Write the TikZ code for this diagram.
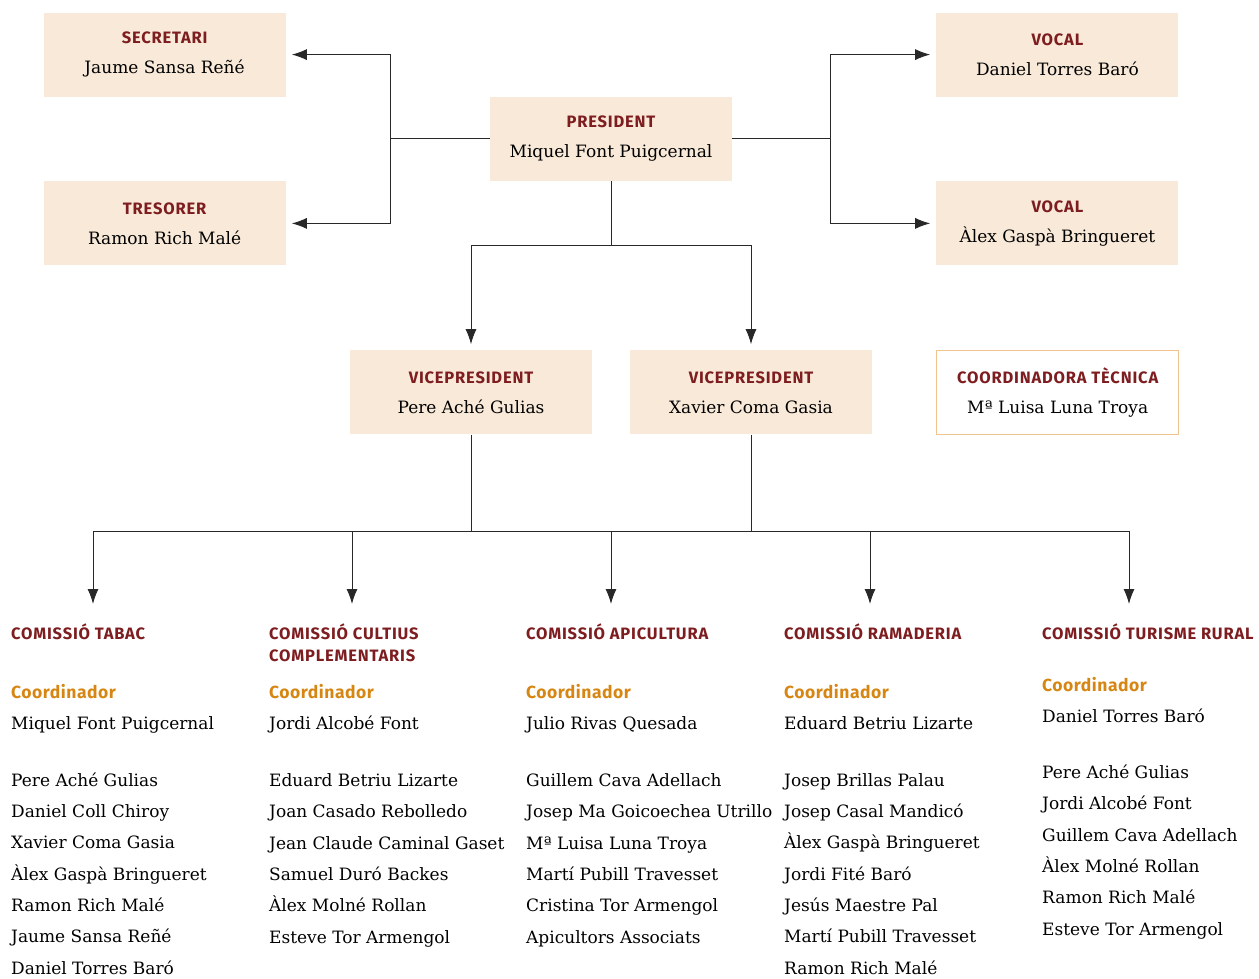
\documentclass[tikz,border=0pt]{standalone}
\usepackage{fontspec}
\setmainfont{DejaVu Serif}
\newfontfamily\headfont{Fira Sans}[LetterSpace=5]
\newfontfamily\rolefont{Fira Sans}[LetterSpace=3]
\usetikzlibrary{arrows.meta,positioning,calc}

\definecolor{boxfill}{RGB}{248,233,216}
\definecolor{headred}{RGB}{125,29,32}
\definecolor{coordorange}{RGB}{214,134,18}
\definecolor{techline}{RGB}{240,196,140}
\definecolor{linegray}{RGB}{40,40,40}

\newcommand{\posthead}[1]{{\headfont\bfseries\fontsize{16.5}{18}\selectfont\color{headred}#1}}

\begin{document}
\begin{tikzpicture}[x=1pt, y=-1pt,
    node distance=204pt,
    post/.style={rectangle, fill=boxfill, minimum width=242pt, minimum height=84pt, align=center, inner sep=0pt, font=\fontsize{17}{30}\selectfont},
    tech/.style={post, fill=white, draw=techline, line width=1pt},
    link/.style={draw=linegray, line width=1pt},
    drop/.style={link, -{Latex[length=15pt,width=11pt]}},
    arrowlink/.style={drop, shorten >=6pt},
    comtitle/.style={anchor=base west, inner sep=0pt, align=left, text=headred, font=\headfont\bfseries\fontsize{16.5}{22}\selectfont},
    rolelabel/.style={anchor=base west, inner sep=0pt, text=coordorange, font=\rolefont\bfseries\fontsize{17.5}{20}\selectfont},
    person/.style={anchor=base west, inner sep=0pt, align=left, font=\fontsize{17}{31.3}\selectfont}]

    \useasboundingbox (0,0) rectangle (1259,979);

    % Board
    \node [post] (president) at (611,139) {\posthead{PRESIDENT}\\Miquel Font Puigcernal};
    \node [post, above left=0pt and 204pt of president] (secretari) {\posthead{SECRETARI}\\Jaume Sansa Reñé};
    \node [post, below left=0pt and 204pt of president] (tresorer) {\posthead{TRESORER}\\Ramon Rich Malé};
    \node [post, above right=0pt and 204pt of president] (vocal_one) {\posthead{VOCAL}\\Daniel Torres Baró};
    \node [post, below right=0pt and 204pt of president] (vocal_two) {\posthead{VOCAL}\\Àlex Gaspà Bringueret};

    % Vice presidents
    \node [post, below=169pt of president, xshift=-140pt] (vice_one) {\posthead{VICEPRESIDENT}\\Pere Aché Gulias};
    \node [post, below=169pt of president, xshift=140pt] (vice_two) {\posthead{VICEPRESIDENT}\\Xavier Coma Gasia};
    \node [tech, right=64pt of vice_two] (coordinadora) {\posthead{COORDINADORA TÈCNICA}\\Mª Luisa Luna Troya};

    % Commissions (multi-line nodes sit on their last baseline)
    \node [comtitle] (tabac) at (11,639) {COMISSIÓ TABAC};
    \node [rolelabel] (tabac_role) at (11,698) {Coordinador};
    \node [person] (tabac_coord) at (11,729) {Miquel Font Puigcernal};
    \node [person] (tabac_members) at (11,974) {Pere Aché Gulias\\Daniel Coll Chiroy\\Xavier Coma Gasia\\Àlex Gaspà Bringueret\\Ramon Rich Malé\\Jaume Sansa Reñé\\Daniel Torres Baró};

    \node [comtitle] (cultius) at (269,661) {COMISSIÓ CULTIUS\\COMPLEMENTARIS};
    \node [rolelabel] (cultius_role) at (269,698) {Coordinador};
    \node [person] (cultius_coord) at (269,729) {Jordi Alcobé Font};
    \node [person] (cultius_members) at (269,943) {Eduard Betriu Lizarte\\Joan Casado Rebolledo\\Jean Claude Caminal Gaset\\Samuel Duró Backes\\Àlex Molné Rollan\\Esteve Tor Armengol};

    \node [comtitle] (apicultura) at (526,639) {COMISSIÓ APICULTURA};
    \node [rolelabel] (apicultura_role) at (526,698) {Coordinador};
    \node [person] (apicultura_coord) at (526,729) {Julio Rivas Quesada};
    \node [person] (apicultura_members) at (526,943) {Guillem Cava Adellach\\Josep Ma Goicoechea Utrillo\\Mª Luisa Luna Troya\\Martí Pubill Travesset\\Cristina Tor Armengol\\Apicultors Associats};

    \node [comtitle] (ramaderia) at (784,639) {COMISSIÓ RAMADERIA};
    \node [rolelabel] (ramaderia_role) at (784,698) {Coordinador};
    \node [person] (ramaderia_coord) at (784,729) {Eduard Betriu Lizarte};
    \node [person] (ramaderia_members) at (784,974) {Josep Brillas Palau\\Josep Casal Mandicó\\Àlex Gaspà Bringueret\\Jordi Fité Baró\\Jesús Maestre Pal\\Martí Pubill Travesset\\Ramon Rich Malé};

    \node [comtitle] (turisme) at (1042,639) {COMISSIÓ TURISME RURAL};
    \node [rolelabel] (turisme_role) at (1042,691) {Coordinador};
    \node [person] (turisme_coord) at (1042,722) {Daniel Torres Baró};
    \node [person] (turisme_members) at (1042,935) {Pere Aché Gulias\\Jordi Alcobé Font\\Guillem Cava Adellach\\Àlex Molné Rollan\\Ramon Rich Malé\\Esteve Tor Armengol};

    % Arrow ends and bus
    \coordinate (bus_left) at (93,531);
    \coordinate (bus_right) at (1129,531);
    \coordinate (tabac_in) at (93,604);
    \coordinate (cultius_in) at (352,604);
    \coordinate (apicultura_in) at (611,604);
    \coordinate (ramaderia_in) at (870,604);
    \coordinate (turisme_in) at (1129,604);

    % Connections - board
    \draw [arrowlink] (president.west) -- ++(-99,0) |- (secretari.east);
    \draw [arrowlink] (president.west) -- ++(-99,0) |- (tresorer.east);
    \draw [arrowlink] (president.east) -- ++(98,0) |- (vocal_one.west);
    \draw [arrowlink] (president.east) -- ++(98,0) |- (vocal_two.west);
    \draw [link] (president.south) -- ++(0,64) coordinate (split);
    \draw [arrowlink] (split) -| (vice_one.north);
    \draw [arrowlink] (split) -| (vice_two.north);

    % Connections - commissions
    \draw [link] (vice_one.south) -- (vice_one.south |- bus_left);
    \draw [link] (vice_two.south) -- (vice_two.south |- bus_left);
    \draw [drop] (bus_right) -- (bus_left) -- (tabac_in);
    \draw [drop] (bus_left) -- (bus_right) -- (turisme_in);
    \draw [drop] (cultius_in |- bus_left) -- (cultius_in);
    \draw [drop] (apicultura_in |- bus_left) -- (apicultura_in);
    \draw [drop] (ramaderia_in |- bus_left) -- (ramaderia_in);

\end{tikzpicture}
\end{document}
